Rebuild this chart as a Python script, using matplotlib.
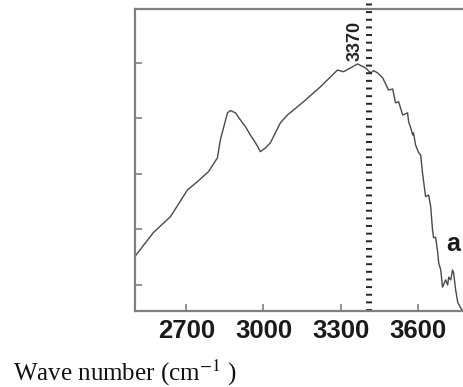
import matplotlib
matplotlib.use("Agg")
import matplotlib.pyplot as plt

plt.rcParams["mathtext.fontset"] = "stix"
plt.rcParams["lines.scale_dashes"] = False

# Spectrum (wave number, intensity in tick units)
wavenumber = [2501, 2571, 2638, 2704, 2743, 2786, 2821, 2832, 2860, 2871,
              2891, 2918, 2930, 2949, 2969, 2988, 3008, 3027, 3066, 3093,
              3156, 3222, 3288, 3312, 3366, 3397, 3417, 3429, 3444, 3464,
              3487, 3503, 3514, 3526, 3542, 3561, 3565, 3573, 3581, 3584,
              3592, 3604, 3612, 3619, 3631, 3643, 3651, 3658, 3662, 3670,
              3678, 3682, 3690, 3697, 3709, 3717, 3721, 3729, 3736, 3740,
              3748, 3756, 3767, 3775]
intensity = [1.52, 1.94, 2.23, 2.71, 2.86, 3.04, 3.29, 3.61, 4.10, 4.14,
             4.10, 3.92, 3.85, 3.70, 3.56, 3.40, 3.47, 3.56, 3.92, 4.06,
             4.30, 4.57, 4.87, 4.84, 4.98, 4.91, 4.82, 4.86, 4.82, 4.73,
             4.51, 4.53, 4.28, 4.30, 4.06, 4.10, 3.94, 3.83, 3.70, 3.74,
             3.52, 3.38, 3.34, 3.02, 2.59, 2.62, 2.41, 1.99, 1.85, 1.86,
             1.59, 1.40, 1.27, 0.96, 1.09, 1.00, 1.14, 1.09, 1.27, 1.22,
             0.91, 0.69, 0.59, 0.53]

xticks = [2700, 3000, 3300, 3600]
yticks = [1, 2, 3, 4, 5]
marker_pos = 3412
marker_label = "3370"

W, H = 464, 387
fig = plt.figure(figsize=(W / 100, H / 100), dpi=100)
ax = fig.add_axes([135 / W, (H - 311) / H, 334 / W, 302 / H])

ax.plot(wavenumber, intensity, color="#4a4a4a", lw=1.0)
ax.axvline(marker_pos, ymin=0, ymax=1.04, color="#222222", lw=4.3,
           dashes=(1.4, 4.1), clip_on=False)

ax.set_xlim(2500, 3800)
ax.set_ylim(0.53, 5.97)
ax.set_xticks(xticks)
ax.set_yticks(yticks)
ax.set_yticklabels([])
ax.set_xticklabels([str(t) for t in xticks], fontsize=18.5,
                   fontweight="bold", family="Liberation Sans",
                   color="#1a1a1a")
ax.tick_params(axis="both", direction="in", length=5, width=1.2,
               color="#808080", pad=6)

for side in ax.spines.values():
    side.set_color("#808080")
    side.set_linewidth(1.6)

ax.text(3358, 5.03, marker_label, rotation=90, ha="center", va="bottom",
        fontsize=13, fontweight="bold", family="Liberation Sans",
        color="#222222")
ax.text(3740, 1.74, "a", ha="center", va="center", fontsize=18,
        fontweight="bold", family="Liberation Sans", color="#1a1a1a")

fig.text(13 / W, 1 - 381 / H, "Wave number (cm$^{-1}$ )",
         fontsize=18, family="Liberation Serif", va="baseline",
         ha="left", color="#111111")

fig.savefig("out.png", dpi=100)
